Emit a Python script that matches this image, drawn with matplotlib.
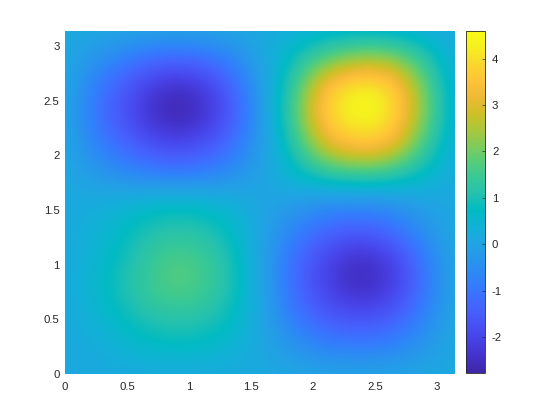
import matplotlib
matplotlib.use('Agg')
import matplotlib.pyplot as plt
from matplotlib.colors import LinearSegmentedColormap
import numpy as np

plt.rcParams['font.family'] = ['Liberation Sans', 'DejaVu Sans']

XLIM = (0, 3.14159)
X_TICKS = [0, 0.5, 1, 1.5, 2, 2.5, 3]
X_LABELS = ["0", "0.5", "1", "1.5", "2", "2.5", "3"]
Y_LABELS = X_LABELS
CBAR_TICKS = [-2, -1, 0, 1, 2, 3, 4]
VMIN, VMAX = -2.78, 4.6

# rows run from y = pi down to y = 0, columns from x = 0 to x = pi, step pi/12
Z = [
    [.15, .15, .10, .05, .05, .10, .15, .25, .35, .40, .35, .25, .15],
    [.15, -.40, -.95, -1.30, -1.30, -.85, .00, .85, 1.80, 2.40, 2.40, 1.35, .20],
    [.15, -.95, -1.70, -2.50, -2.45, -1.60, -.25, 1.25, 3.65, 4.45, 4.20, 2.15, .20],
    [.15, -1.10, -1.90, -2.72, -2.68, -1.80, -.35, 1.50, 3.90, 4.55, 4.30, 2.30, .20],
    [.15, -.80, -1.40, -1.95, -1.90, -1.25, -.25, 1.00, 3.05, 3.75, 3.50, 1.60, .20],
    [.15, -.25, -.65, -.90, -.90, -.60, -.05, .60, 1.25, 1.50, 1.35, .75, .15],
    [.15, .25, .45, .65, .65, .40, .10, -.15, -.45, -.50, -.40, -.05, .15],
    [.15, .40, .80, 1.15, 1.15, .85, .05, -.70, -1.30, -1.55, -1.25, -.45, .15],
    [.15, .50, 1.00, 1.65, 1.70, 1.10, .10, -1.15, -2.00, -2.60, -2.25, -1.05, .15],
    [.15, .60, 1.15, 1.72, 1.72, 1.15, .15, -1.20, -2.05, -2.65, -2.30, -1.15, .15],
    [.15, .45, .90, 1.20, 1.20, .90, .15, -.90, -1.55, -1.80, -1.60, -.80, .15],
    [.15, .25, .55, .75, .75, .55, .15, -.35, -.80, -.90, -.80, -.35, .15],
    [.15, .15, .15, .15, .15, .15, .15, .10, .05, .05, .05, .10, .15],
]

PARULA = [
    (0.2422, 0.1504, 0.6603), (0.2647, 0.1978, 0.7952), (0.2783, 0.2559, 0.8991),
    (0.2810, 0.3228, 0.9579), (0.2699, 0.3892, 0.9906), (0.2206, 0.4603, 0.9973),
    (0.1786, 0.5289, 0.9682), (0.1540, 0.5902, 0.9218), (0.1248, 0.6459, 0.8883),
    (0.0689, 0.6948, 0.8394), (0.0067, 0.7312, 0.7660), (0.1408, 0.7584, 0.6842),
    (0.2161, 0.7843, 0.5923), (0.3406, 0.8008, 0.4789), (0.5044, 0.7993, 0.3480),
    (0.6720, 0.7793, 0.2227), (0.8203, 0.7498, 0.1535), (0.9393, 0.7288, 0.2100),
    (0.9970, 0.7659, 0.2199), (0.9786, 0.8386, 0.1766), (0.9628, 0.9373, 0.1265),
    (0.9769, 0.9839, 0.0805),
]
parula = LinearSegmentedColormap.from_list("parula", PARULA, N=256)

W, H = 560, 420
TXT = '#262626'


def px_axes(fig, left, top, right, bottom):
    return fig.add_axes([left / W, 1 - bottom / H, (right - left) / W, (bottom - top) / H])


fig = plt.figure(figsize=(W / 100, H / 100), dpi=100)
ax = px_axes(fig, 65, 30.5, 454.5, 374)
cax = px_axes(fig, 465.5, 31, 485, 373)

half = XLIM[1] / 24
im = ax.imshow(np.array(Z), cmap=parula, vmin=VMIN, vmax=VMAX, aspect='auto',
               interpolation='bicubic', extent=(-half, XLIM[1] + half, -half, XLIM[1] + half))
ax.set_xlim(XLIM)
ax.set_ylim(XLIM)
ax.set_xticks(X_TICKS)
ax.set_xticklabels(X_LABELS)
ax.set_yticks(X_TICKS)
ax.set_yticklabels(Y_LABELS)
ax.tick_params(length=0, labelsize=8.2, labelcolor=TXT)
ax.tick_params(axis='x', pad=5.5)
ax.tick_params(axis='y', pad=4)
for spine in ax.spines.values():
    spine.set_visible(False)

cb = fig.colorbar(im, cax=cax)
cb.set_ticks(CBAR_TICKS)
cb.set_ticklabels([str(t) for t in CBAR_TICKS])
cax.tick_params(direction='in', length=2.2, width=0.5, color=TXT, labelsize=8.2,
                labelcolor=TXT, pad=5)
cb.outline.set_edgecolor(TXT)
cb.outline.set_linewidth(0.6)

plt.savefig("out.png", dpi=100)
plt.close()
